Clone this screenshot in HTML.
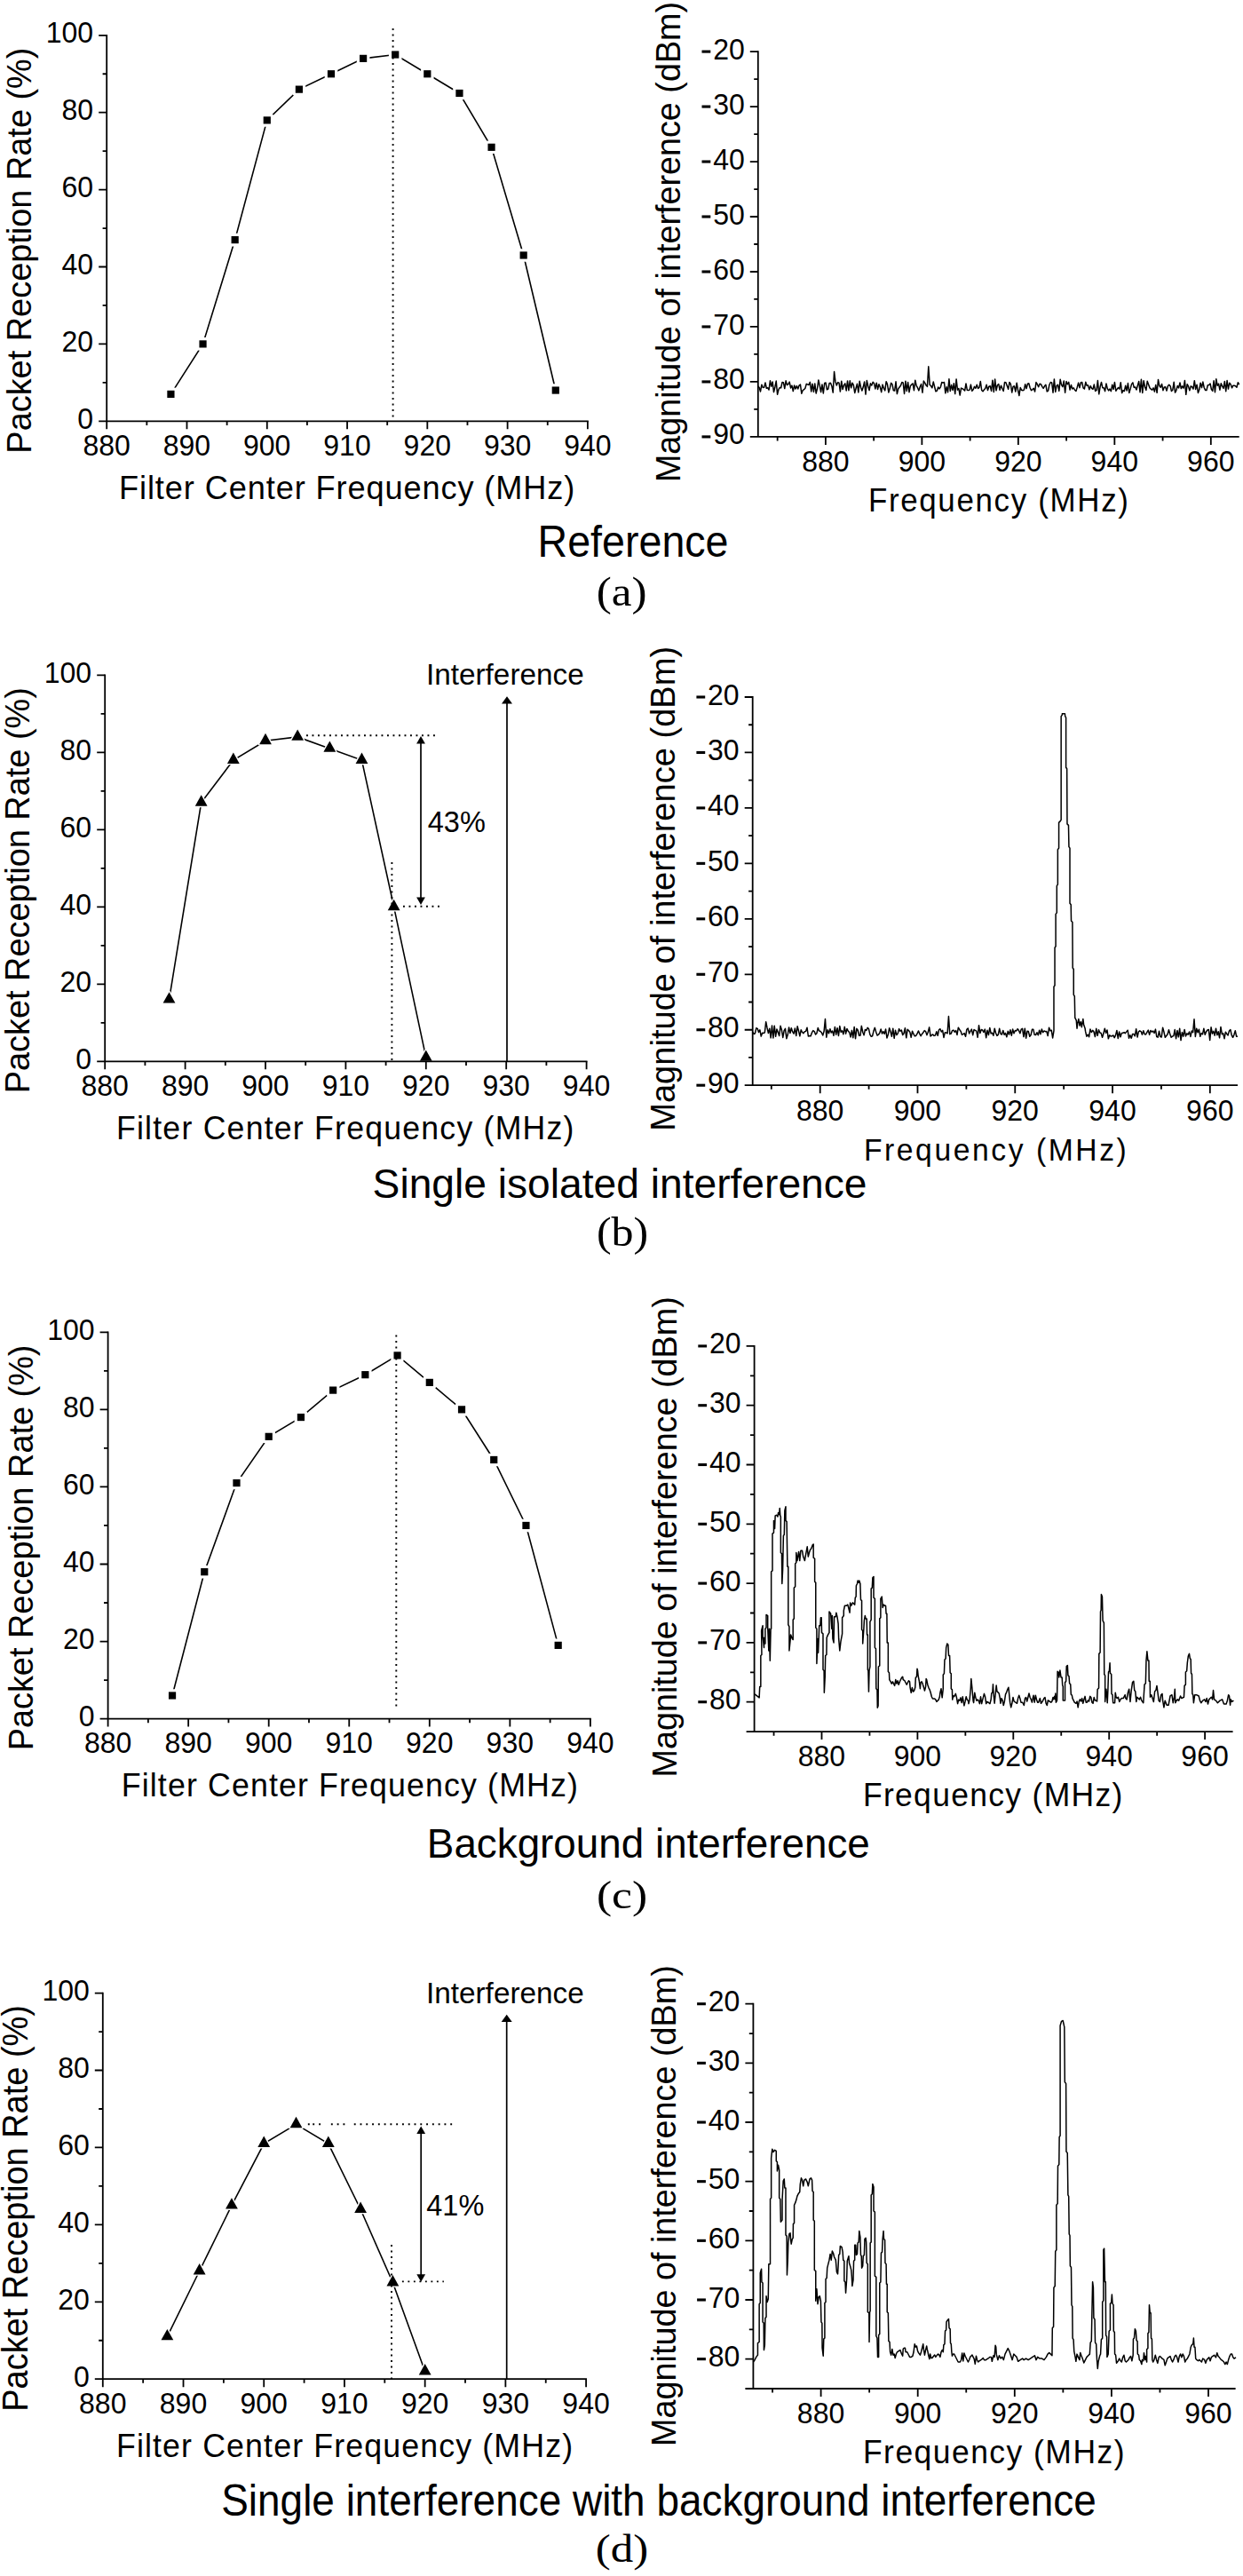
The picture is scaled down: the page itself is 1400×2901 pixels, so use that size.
<!DOCTYPE html>
<html><head><meta charset="utf-8"><style>
html,body{margin:0;padding:0;background:#fff;}
body{width:1400px;height:2901px;overflow:hidden;}
svg{display:block;}
text{font-family:"Liberation Sans",sans-serif;fill:#000;}
.tl{font-size:32px;}
.cap{font-family:"Liberation Serif",serif;}
.ax{stroke:#000;stroke-width:1.8;fill:none;}
.ln{stroke:#000;stroke-width:1.6;fill:none;}
.sg{stroke:#000;stroke-width:1.5;fill:none;stroke-linejoin:round;}
.dot{stroke:#000;stroke-width:1.9;stroke-dasharray:1.9 4.6;fill:none;}
.arr{stroke:#000;stroke-width:1.7;fill:none;}
</style></head><body>
<svg width="1400" height="2901" viewBox="0 0 1400 2901">
<path d="M111.2 474.3H662.8" class="ax"/>
<path d="M120.2 483.3V38.9" class="ax"/>
<path d="M115.6 430.85H120.2M111.2 387.4H120.2M115.6 343.95H120.2M111.2 300.5H120.2M115.6 257.05H120.2M111.2 213.6H120.2M115.6 170.15H120.2M111.2 126.7H120.2M115.6 83.25H120.2M111.2 39.8H120.2M165.34 474.3V478.9M210.48 474.3V483.3M255.62 474.3V478.9M300.77 474.3V483.3M345.91 474.3V478.9M391.05 474.3V483.3M436.19 474.3V478.9M481.33 474.3V483.3M526.48 474.3V478.9M571.62 474.3V483.3M616.76 474.3V478.9M661.9 474.3V483.3" class="ax"/>
<text x="87.32" y="482.87" class="tl" transform="translate(0 482.87) scale(1 1.03) translate(0 -482.87)">0</text>
<text x="69.56" y="395.97" class="tl" transform="translate(0 395.97) scale(1 1.03) translate(0 -395.97)">20</text>
<text x="69.56" y="309.07" class="tl" transform="translate(0 309.07) scale(1 1.03) translate(0 -309.07)">40</text>
<text x="69.56" y="222.17" class="tl" transform="translate(0 222.17) scale(1 1.03) translate(0 -222.17)">60</text>
<text x="69.56" y="135.27" class="tl" transform="translate(0 135.27) scale(1 1.03) translate(0 -135.27)">80</text>
<text x="51.8" y="48.37" class="tl" transform="translate(0 48.37) scale(1 1.03) translate(0 -48.37)">100</text>
<text x="93.48" y="513.17" class="tl" transform="translate(0 513.17) scale(1 1.03) translate(0 -513.17)">880</text>
<text x="183.76" y="513.17" class="tl" transform="translate(0 513.17) scale(1 1.03) translate(0 -513.17)">890</text>
<text x="274.05" y="513.17" class="tl" transform="translate(0 513.17) scale(1 1.03) translate(0 -513.17)">900</text>
<text x="364.33" y="513.17" class="tl" transform="translate(0 513.17) scale(1 1.03) translate(0 -513.17)">910</text>
<text x="454.61" y="513.17" class="tl" transform="translate(0 513.17) scale(1 1.03) translate(0 -513.17)">920</text>
<text x="544.9" y="513.17" class="tl" transform="translate(0 513.17) scale(1 1.03) translate(0 -513.17)">930</text>
<text x="635.18" y="513.17" class="tl" transform="translate(0 513.17) scale(1 1.03) translate(0 -513.17)">940</text>
<text transform="translate(134.01 561.9) scale(1 1.0377)" class="ti" font-size="36.17" letter-spacing="0.897">Filter Center Frequency (MHz)</text>
<text transform="translate(35.2 510.63) rotate(-90) scale(0.9478 0.9855)" class="ti" font-size="40">Packet Reception Rate (%)</text>
<path d="M442.6 32V474.3" class="dot"/>
<mask id="m0" maskUnits="userSpaceOnUse" x="0" y="0" width="1400" height="2901"><rect width="1400" height="2901" fill="#fff"/><g fill="#000" stroke="#000" stroke-width="6.4" stroke-linejoin="round"><rect x="188.33" y="439.78" width="8.2" height="8.2"/><rect x="224.44" y="383.3" width="8.2" height="8.2"/><rect x="260.55" y="265.99" width="8.2" height="8.2"/><rect x="296.67" y="131.29" width="8.2" height="8.2"/><rect x="332.78" y="96.53" width="8.2" height="8.2"/><rect x="368.89" y="79.15" width="8.2" height="8.2"/><rect x="405.01" y="61.77" width="8.2" height="8.2"/><rect x="441.12" y="57.43" width="8.2" height="8.2"/><rect x="477.23" y="79.15" width="8.2" height="8.2"/><rect x="513.35" y="100.88" width="8.2" height="8.2"/><rect x="549.46" y="161.71" width="8.2" height="8.2"/><rect x="585.57" y="283.37" width="8.2" height="8.2"/><rect x="621.69" y="435.44" width="8.2" height="8.2"/></g></mask>
<path d="M192.43 443.88 L228.54 387.4 L264.65 270.09 L300.77 135.39 L336.88 100.63 L372.99 83.25 L409.11 65.87 L445.22 61.53 L481.33 83.25 L517.45 104.98 L553.56 165.81 L589.67 287.47 L625.79 439.54" class="ln" mask="url(#m0)"/>
<rect x="188.33" y="439.78" width="8.2" height="8.2"/>
<rect x="224.44" y="383.3" width="8.2" height="8.2"/>
<rect x="260.55" y="265.99" width="8.2" height="8.2"/>
<rect x="296.67" y="131.29" width="8.2" height="8.2"/>
<rect x="332.78" y="96.53" width="8.2" height="8.2"/>
<rect x="368.89" y="79.15" width="8.2" height="8.2"/>
<rect x="405.01" y="61.77" width="8.2" height="8.2"/>
<rect x="441.12" y="57.43" width="8.2" height="8.2"/>
<rect x="477.23" y="79.15" width="8.2" height="8.2"/>
<rect x="513.35" y="100.88" width="8.2" height="8.2"/>
<rect x="549.46" y="161.71" width="8.2" height="8.2"/>
<rect x="585.57" y="283.37" width="8.2" height="8.2"/>
<rect x="621.69" y="435.44" width="8.2" height="8.2"/>
<path d="M109.2 1195.3H661.5" class="ax"/>
<path d="M118.2 1204.3V759.4" class="ax"/>
<path d="M113.6 1151.8H118.2M109.2 1108.3H118.2M113.6 1064.8H118.2M109.2 1021.3H118.2M113.6 977.8H118.2M109.2 934.3H118.2M113.6 890.8H118.2M109.2 847.3H118.2M113.6 803.8H118.2M109.2 760.3H118.2M163.4 1195.3V1199.9M208.6 1195.3V1204.3M253.8 1195.3V1199.9M299 1195.3V1204.3M344.2 1195.3V1199.9M389.4 1195.3V1204.3M434.6 1195.3V1199.9M479.8 1195.3V1204.3M525 1195.3V1199.9M570.2 1195.3V1204.3M615.4 1195.3V1199.9M660.6 1195.3V1204.3" class="ax"/>
<text x="85.32" y="1203.87" class="tl" transform="translate(0 1203.87) scale(1 1.03) translate(0 -1203.87)">0</text>
<text x="67.56" y="1116.87" class="tl" transform="translate(0 1116.87) scale(1 1.03) translate(0 -1116.87)">20</text>
<text x="67.56" y="1029.87" class="tl" transform="translate(0 1029.87) scale(1 1.03) translate(0 -1029.87)">40</text>
<text x="67.56" y="942.87" class="tl" transform="translate(0 942.87) scale(1 1.03) translate(0 -942.87)">60</text>
<text x="67.56" y="855.87" class="tl" transform="translate(0 855.87) scale(1 1.03) translate(0 -855.87)">80</text>
<text x="49.8" y="768.87" class="tl" transform="translate(0 768.87) scale(1 1.03) translate(0 -768.87)">100</text>
<text x="91.48" y="1234.17" class="tl" transform="translate(0 1234.17) scale(1 1.03) translate(0 -1234.17)">880</text>
<text x="181.88" y="1234.17" class="tl" transform="translate(0 1234.17) scale(1 1.03) translate(0 -1234.17)">890</text>
<text x="272.28" y="1234.17" class="tl" transform="translate(0 1234.17) scale(1 1.03) translate(0 -1234.17)">900</text>
<text x="362.68" y="1234.17" class="tl" transform="translate(0 1234.17) scale(1 1.03) translate(0 -1234.17)">910</text>
<text x="453.08" y="1234.17" class="tl" transform="translate(0 1234.17) scale(1 1.03) translate(0 -1234.17)">920</text>
<text x="543.48" y="1234.17" class="tl" transform="translate(0 1234.17) scale(1 1.03) translate(0 -1234.17)">930</text>
<text x="633.88" y="1234.17" class="tl" transform="translate(0 1234.17) scale(1 1.03) translate(0 -1234.17)">940</text>
<text transform="translate(130.95 1283.4) scale(1 1.0377)" class="ti" font-size="35.61" letter-spacing="1.246">Filter Center Frequency (MHz)</text>
<text transform="translate(33 1231.33) rotate(-90) scale(0.9482 0.9783)" class="ti" font-size="40">Packet Reception Rate (%)</text>
<path d="M441.4 971.1V1195.3" class="dot"/>
<path d="M345 828.2H491.7" class="dot"/><path d="M454 1020.7H495.3" class="dot"/><path d="M474 833V1014.9" class="arr"/><path d="M474 829L478.9 837.4L469.1 837.4Z"/><path d="M474 1018.9L478.9 1010.5L469.1 1010.5Z"/><path d="M571 788.2V1195.3" class="arr"/><path d="M571 784.2L577 792.4L565 792.4Z"/><text transform="translate(479.9 770.6) scale(0.8337 0.8297)" class="an" font-size="40">Interference</text><text transform="translate(481.79 937.3) scale(0.8131 0.8429)" class="an" font-size="40">43%</text>
<mask id="m1" maskUnits="userSpaceOnUse" x="0" y="0" width="1400" height="2901"><rect width="1400" height="2901" fill="#fff"/><g fill="#000" stroke="#000" stroke-width="2.8" stroke-linejoin="round"><path d="M190.52 1117.2L197.42 1129.6L183.62 1129.6Z"/><path d="M226.68 895.35L233.58 907.75L219.78 907.75Z"/><path d="M262.84 847.5L269.74 859.9L255.94 859.9Z"/><path d="M299 825.75L305.9 838.15L292.1 838.15Z"/><path d="M335.16 821.4L342.06 833.8L328.26 833.8Z"/><path d="M371.32 834.45L378.22 846.85L364.42 846.85Z"/><path d="M407.48 847.5L414.38 859.9L400.58 859.9Z"/><path d="M443.64 1012.8L450.54 1025.2L436.74 1025.2Z"/><path d="M479.8 1182.45L486.7 1194.85L472.9 1194.85Z"/></g></mask>
<path d="M190.52 1125.7 L226.68 903.85 L262.84 856 L299 834.25 L335.16 829.9 L371.32 842.95 L407.48 856 L443.64 1021.3 L479.8 1190.95" class="ln" mask="url(#m1)"/>
<path d="M190.52 1117.2L197.42 1129.6L183.62 1129.6Z"/>
<path d="M226.68 895.35L233.58 907.75L219.78 907.75Z"/>
<path d="M262.84 847.5L269.74 859.9L255.94 859.9Z"/>
<path d="M299 825.75L305.9 838.15L292.1 838.15Z"/>
<path d="M335.16 821.4L342.06 833.8L328.26 833.8Z"/>
<path d="M371.32 834.45L378.22 846.85L364.42 846.85Z"/>
<path d="M407.48 847.5L414.38 859.9L400.58 859.9Z"/>
<path d="M443.64 1012.8L450.54 1025.2L436.74 1025.2Z"/>
<path d="M479.8 1182.45L486.7 1194.85L472.9 1194.85Z"/>
<path d="M112.6 1935.6H665.8" class="ax"/>
<path d="M121.6 1944.6V1499.4" class="ax"/>
<path d="M117 1892.07H121.6M112.6 1848.54H121.6M117 1805.01H121.6M112.6 1761.48H121.6M117 1717.95H121.6M112.6 1674.42H121.6M117 1630.89H121.6M112.6 1587.36H121.6M117 1543.83H121.6M112.6 1500.3H121.6M166.88 1935.6V1940.2M212.15 1935.6V1944.6M257.42 1935.6V1940.2M302.7 1935.6V1944.6M347.98 1935.6V1940.2M393.25 1935.6V1944.6M438.52 1935.6V1940.2M483.8 1935.6V1944.6M529.07 1935.6V1940.2M574.35 1935.6V1944.6M619.62 1935.6V1940.2M664.9 1935.6V1944.6" class="ax"/>
<text x="88.72" y="1944.17" class="tl" transform="translate(0 1944.17) scale(1 1.03) translate(0 -1944.17)">0</text>
<text x="70.96" y="1857.11" class="tl" transform="translate(0 1857.11) scale(1 1.03) translate(0 -1857.11)">20</text>
<text x="70.96" y="1770.05" class="tl" transform="translate(0 1770.05) scale(1 1.03) translate(0 -1770.05)">40</text>
<text x="70.96" y="1682.99" class="tl" transform="translate(0 1682.99) scale(1 1.03) translate(0 -1682.99)">60</text>
<text x="70.96" y="1595.93" class="tl" transform="translate(0 1595.93) scale(1 1.03) translate(0 -1595.93)">80</text>
<text x="53.2" y="1508.87" class="tl" transform="translate(0 1508.87) scale(1 1.03) translate(0 -1508.87)">100</text>
<text x="94.88" y="1974.47" class="tl" transform="translate(0 1974.47) scale(1 1.03) translate(0 -1974.47)">880</text>
<text x="185.43" y="1974.47" class="tl" transform="translate(0 1974.47) scale(1 1.03) translate(0 -1974.47)">890</text>
<text x="275.98" y="1974.47" class="tl" transform="translate(0 1974.47) scale(1 1.03) translate(0 -1974.47)">900</text>
<text x="366.53" y="1974.47" class="tl" transform="translate(0 1974.47) scale(1 1.03) translate(0 -1974.47)">910</text>
<text x="457.08" y="1974.47" class="tl" transform="translate(0 1974.47) scale(1 1.03) translate(0 -1974.47)">920</text>
<text x="547.63" y="1974.47" class="tl" transform="translate(0 1974.47) scale(1 1.03) translate(0 -1974.47)">930</text>
<text x="638.18" y="1974.47" class="tl" transform="translate(0 1974.47) scale(1 1.03) translate(0 -1974.47)">940</text>
<text transform="translate(136.74 2022.5) scale(1 1.0377)" class="ti" font-size="35.75" letter-spacing="1.126">Filter Center Frequency (MHz)</text>
<text transform="translate(37.2 1971.33) rotate(-90) scale(0.9471 0.9928)" class="ti" font-size="40">Packet Reception Rate (%)</text>
<path d="M446.3 1503.5V1925" class="dot"/>
<mask id="m2" maskUnits="userSpaceOnUse" x="0" y="0" width="1400" height="2901"><rect width="1400" height="2901" fill="#fff"/><g fill="#000" stroke="#000" stroke-width="6.4" stroke-linejoin="round"><rect x="189.94" y="1905.38" width="8.2" height="8.2"/><rect x="226.16" y="1766.09" width="8.2" height="8.2"/><rect x="262.38" y="1665.97" width="8.2" height="8.2"/><rect x="298.6" y="1613.73" width="8.2" height="8.2"/><rect x="334.82" y="1591.97" width="8.2" height="8.2"/><rect x="371.04" y="1561.5" width="8.2" height="8.2"/><rect x="407.26" y="1544.08" width="8.2" height="8.2"/><rect x="443.48" y="1522.32" width="8.2" height="8.2"/><rect x="479.7" y="1552.79" width="8.2" height="8.2"/><rect x="515.92" y="1583.26" width="8.2" height="8.2"/><rect x="552.14" y="1639.85" width="8.2" height="8.2"/><rect x="588.36" y="1713.85" width="8.2" height="8.2"/><rect x="624.58" y="1848.79" width="8.2" height="8.2"/></g></mask>
<path d="M194.04 1909.48 L230.26 1770.19 L266.48 1670.07 L302.7 1617.83 L338.92 1596.07 L375.14 1565.6 L411.36 1548.18 L447.58 1526.42 L483.8 1556.89 L520.02 1587.36 L556.24 1643.95 L592.46 1717.95 L628.68 1852.89" class="ln" mask="url(#m2)"/>
<rect x="189.94" y="1905.38" width="8.2" height="8.2"/>
<rect x="226.16" y="1766.09" width="8.2" height="8.2"/>
<rect x="262.38" y="1665.97" width="8.2" height="8.2"/>
<rect x="298.6" y="1613.73" width="8.2" height="8.2"/>
<rect x="334.82" y="1591.97" width="8.2" height="8.2"/>
<rect x="371.04" y="1561.5" width="8.2" height="8.2"/>
<rect x="407.26" y="1544.08" width="8.2" height="8.2"/>
<rect x="443.48" y="1522.32" width="8.2" height="8.2"/>
<rect x="479.7" y="1552.79" width="8.2" height="8.2"/>
<rect x="515.92" y="1583.26" width="8.2" height="8.2"/>
<rect x="552.14" y="1639.85" width="8.2" height="8.2"/>
<rect x="588.36" y="1713.85" width="8.2" height="8.2"/>
<rect x="624.58" y="1848.79" width="8.2" height="8.2"/>
<path d="M106.8 2679.2H661" class="ax"/>
<path d="M115.8 2688.2V2243.7" class="ax"/>
<path d="M111.2 2635.74H115.8M106.8 2592.28H115.8M111.2 2548.82H115.8M106.8 2505.36H115.8M111.2 2461.9H115.8M106.8 2418.44H115.8M111.2 2374.98H115.8M106.8 2331.52H115.8M111.2 2288.06H115.8M106.8 2244.6H115.8M161.16 2679.2V2683.8M206.52 2679.2V2688.2M251.88 2679.2V2683.8M297.23 2679.2V2688.2M342.59 2679.2V2683.8M387.95 2679.2V2688.2M433.31 2679.2V2683.8M478.67 2679.2V2688.2M524.02 2679.2V2683.8M569.38 2679.2V2688.2M614.74 2679.2V2683.8M660.1 2679.2V2688.2" class="ax"/>
<text x="82.92" y="2687.77" class="tl" transform="translate(0 2687.77) scale(1 1.03) translate(0 -2687.77)">0</text>
<text x="65.16" y="2600.85" class="tl" transform="translate(0 2600.85) scale(1 1.03) translate(0 -2600.85)">20</text>
<text x="65.16" y="2513.93" class="tl" transform="translate(0 2513.93) scale(1 1.03) translate(0 -2513.93)">40</text>
<text x="65.16" y="2427.01" class="tl" transform="translate(0 2427.01) scale(1 1.03) translate(0 -2427.01)">60</text>
<text x="65.16" y="2340.09" class="tl" transform="translate(0 2340.09) scale(1 1.03) translate(0 -2340.09)">80</text>
<text x="47.4" y="2253.17" class="tl" transform="translate(0 2253.17) scale(1 1.03) translate(0 -2253.17)">100</text>
<text x="89.08" y="2718.07" class="tl" transform="translate(0 2718.07) scale(1 1.03) translate(0 -2718.07)">880</text>
<text x="179.8" y="2718.07" class="tl" transform="translate(0 2718.07) scale(1 1.03) translate(0 -2718.07)">890</text>
<text x="270.51" y="2718.07" class="tl" transform="translate(0 2718.07) scale(1 1.03) translate(0 -2718.07)">900</text>
<text x="361.23" y="2718.07" class="tl" transform="translate(0 2718.07) scale(1 1.03) translate(0 -2718.07)">910</text>
<text x="451.95" y="2718.07" class="tl" transform="translate(0 2718.07) scale(1 1.03) translate(0 -2718.07)">920</text>
<text x="542.66" y="2718.07" class="tl" transform="translate(0 2718.07) scale(1 1.03) translate(0 -2718.07)">930</text>
<text x="633.38" y="2718.07" class="tl" transform="translate(0 2718.07) scale(1 1.03) translate(0 -2718.07)">940</text>
<text transform="translate(130.94 2767.3) scale(1 1.0377)" class="ti" font-size="35.75" letter-spacing="1.126">Filter Center Frequency (MHz)</text>
<text transform="translate(31.4 2715.74) rotate(-90) scale(0.9488 0.9964)" class="ti" font-size="40">Packet Reception Rate (%)</text>
<path d="M441 2528V2679.2" class="dot"/>
<path d="M346.85 2392.3h1.9M352.25 2392.3h1.9M359.15 2392.3h1.9M372.85 2392.3h1.9M379.65 2392.3h1.9M386.45 2392.3h1.9M398.75 2392.3h1.9M405.53 2392.3h1.9M412.31 2392.3h1.9M419.09 2392.3h1.9M425.87 2392.3h1.9M432.65 2392.3h1.9M439.43 2392.3h1.9M446.21 2392.3h1.9M452.99 2392.3h1.9M459.77 2392.3h1.9M466.55 2392.3h1.9M473.33 2392.3h1.9M480.11 2392.3h1.9M486.89 2392.3h1.9M493.67 2392.3h1.9M500.45 2392.3h1.9M507.23 2392.3h1.9" stroke="#000" stroke-width="1.9" fill="none"/><path d="M452.9 2569.4H499.9" class="dot"/><path d="M474.2 2398.5V2565.7" class="arr"/><path d="M474.2 2394.5L479.1 2402.9L469.3 2402.9Z"/><path d="M474.2 2569.7L479.1 2561.3L469.3 2561.3Z"/><path d="M570.7 2272.7V2679.2" class="arr"/><path d="M570.7 2268.7L576.7 2276.9L564.7 2276.9Z"/><text transform="translate(479.9 2256.3) scale(0.8337 0.8188)" class="an" font-size="40">Interference</text><text transform="translate(480.29 2495) scale(0.8119 0.8489)" class="an" font-size="40">41%</text>
<mask id="m3" maskUnits="userSpaceOnUse" x="0" y="0" width="1400" height="2901"><rect width="1400" height="2901" fill="#fff"/><g fill="#000" stroke="#000" stroke-width="2.8" stroke-linejoin="round"><path d="M188.37 2622.89L195.27 2635.29L181.47 2635.29Z"/><path d="M224.66 2549.01L231.56 2561.41L217.76 2561.41Z"/><path d="M260.95 2475.13L267.85 2487.53L254.05 2487.53Z"/><path d="M297.23 2405.59L304.13 2417.99L290.33 2417.99Z"/><path d="M333.52 2383.86L340.42 2396.26L326.62 2396.26Z"/><path d="M369.81 2405.59L376.71 2417.99L362.91 2417.99Z"/><path d="M406.09 2479.48L412.99 2491.88L399.19 2491.88Z"/><path d="M442.38 2562.05L449.28 2574.45L435.48 2574.45Z"/><path d="M478.67 2662.01L485.57 2674.41L471.77 2674.41Z"/></g></mask>
<path d="M188.37 2631.39 L224.66 2557.51 L260.95 2483.63 L297.23 2414.09 L333.52 2392.36 L369.81 2414.09 L406.09 2487.98 L442.38 2570.55 L478.67 2670.51" class="ln" mask="url(#m3)"/>
<path d="M188.37 2622.89L195.27 2635.29L181.47 2635.29Z"/>
<path d="M224.66 2549.01L231.56 2561.41L217.76 2561.41Z"/>
<path d="M260.95 2475.13L267.85 2487.53L254.05 2487.53Z"/>
<path d="M297.23 2405.59L304.13 2417.99L290.33 2417.99Z"/>
<path d="M333.52 2383.86L340.42 2396.26L326.62 2396.26Z"/>
<path d="M369.81 2405.59L376.71 2417.99L362.91 2417.99Z"/>
<path d="M406.09 2479.48L412.99 2491.88L399.19 2491.88Z"/>
<path d="M442.38 2562.05L449.28 2574.45L435.48 2574.45Z"/>
<path d="M478.67 2662.01L485.57 2674.41L471.77 2674.41Z"/>
<path d="M844.8 491.9H1395.7" class="ax"/>
<path d="M853.8 491.9V57.2" class="ax"/>
<path d="M844.8 58.1H853.8M849.2 89.09H853.8M844.8 120.07H853.8M849.2 151.06H853.8M844.8 182.04H853.8M849.2 213.03H853.8M844.8 244.01H853.8M849.2 275H853.8M844.8 305.99H853.8M849.2 336.97H853.8M844.8 367.96H853.8M849.2 398.94H853.8M844.8 429.93H853.8M849.2 460.91H853.8M875.66 491.9V496.5M929.9 491.9V500.9M984.14 491.9V496.5M1038.38 491.9V500.9M1092.62 491.9V496.5M1146.86 491.9V500.9M1201.1 491.9V496.5M1255.34 491.9V500.9M1309.58 491.9V496.5M1363.82 491.9V500.9" class="ax"/>
<text x="803.16" y="66.67" class="tl" transform="translate(0 66.67) scale(1 1.03) translate(0 -66.67)">20</text>
<rect x="790.5" y="56.55" width="9.8" height="3.1"/>
<text x="803.16" y="128.64" class="tl" transform="translate(0 128.64) scale(1 1.03) translate(0 -128.64)">30</text>
<rect x="790.5" y="118.52" width="9.8" height="3.1"/>
<text x="803.16" y="190.61" class="tl" transform="translate(0 190.61) scale(1 1.03) translate(0 -190.61)">40</text>
<rect x="790.5" y="180.49" width="9.8" height="3.1"/>
<text x="803.16" y="252.59" class="tl" transform="translate(0 252.59) scale(1 1.03) translate(0 -252.59)">50</text>
<rect x="790.5" y="242.46" width="9.8" height="3.1"/>
<text x="803.16" y="314.56" class="tl" transform="translate(0 314.56) scale(1 1.03) translate(0 -314.56)">60</text>
<rect x="790.5" y="304.44" width="9.8" height="3.1"/>
<text x="803.16" y="376.53" class="tl" transform="translate(0 376.53) scale(1 1.03) translate(0 -376.53)">70</text>
<rect x="790.5" y="366.41" width="9.8" height="3.1"/>
<text x="803.16" y="438.5" class="tl" transform="translate(0 438.5) scale(1 1.03) translate(0 -438.5)">80</text>
<rect x="790.5" y="428.38" width="9.8" height="3.1"/>
<text x="803.16" y="500.47" class="tl" transform="translate(0 500.47) scale(1 1.03) translate(0 -500.47)">90</text>
<rect x="790.5" y="490.35" width="9.8" height="3.1"/>
<text x="903.18" y="531.27" class="tl" transform="translate(0 531.27) scale(1 1.03) translate(0 -531.27)">880</text>
<text x="1011.66" y="531.27" class="tl" transform="translate(0 531.27) scale(1 1.03) translate(0 -531.27)">900</text>
<text x="1120.14" y="531.27" class="tl" transform="translate(0 531.27) scale(1 1.03) translate(0 -531.27)">920</text>
<text x="1228.62" y="531.27" class="tl" transform="translate(0 531.27) scale(1 1.03) translate(0 -531.27)">940</text>
<text x="1337.1" y="531.27" class="tl" transform="translate(0 531.27) scale(1 1.03) translate(0 -531.27)">960</text>
<text transform="translate(977.91 576.3) scale(1 1.0377)" class="ti" font-size="34.92" letter-spacing="1.667">Frequency (MHz)</text>
<text transform="translate(766 543.12) rotate(-90) scale(0.9437 0.9891)" class="ti" font-size="40">Magnitude of interference (dBm)</text>
<path d="M853.8 434.85 L855.16 436.54 L856.52 440.91 L857.88 433.14 L859.25 436.43 L860.61 436.36 L861.97 430.91 L863.33 437.27 L864.69 436.65 L866.05 439.08 L867.42 428.73 L868.78 435.2 L870.14 430.04 L871.5 441.62 L872.86 435.99 L874.22 429.1 L875.58 444.3 L876.95 438.74 L878.31 436.46 L879.67 436.74 L881.03 430.41 L882.39 430.69 L883.75 437.57 L885.12 428.79 L886.48 433.64 L887.84 432.64 L889.2 430.11 L890.56 436.9 L891.92 434.2 L893.29 440.61 L894.65 433.97 L896.01 437.94 L897.37 434.64 L898.73 438.01 L900.09 434.04 L901.45 432.99 L902.82 443.15 L904.18 439.57 L905.54 438.7 L906.9 437.2 L908.26 432.39 L909.62 432.91 L910.99 433.54 L912.35 430.34 L913.71 440.93 L915.07 432.25 L916.43 441.35 L917.79 431.91 L919.15 442.99 L920.52 437.6 L921.88 427.97 L923.24 434.19 L924.6 441.54 L925.96 432.98 L927.32 442.92 L928.69 431.51 L930.05 431.09 L931.41 438.8 L932.77 438.13 L934.13 431.45 L935.49 431.3 L936.86 434.69 L938.22 442.09 L939.58 418.6 L940.94 429.88 L942.3 434.02 L943.66 430.59 L945.02 431.23 L946.39 441.03 L947.75 429.18 L949.11 438.52 L950.47 433.73 L951.83 431.91 L953.19 439.91 L954.56 428.94 L955.92 439.75 L957.28 428.8 L958.64 436.77 L960 431.15 L961.36 433.89 L962.72 442.47 L964.09 437.19 L965.45 432.25 L966.81 441.87 L968.17 429.34 L969.53 436.22 L970.89 440.07 L972.26 435.83 L973.62 429.95 L974.98 444.1 L976.34 428.59 L977.7 434.63 L979.06 439.51 L980.42 431.77 L981.79 434.04 L983.15 430.21 L984.51 431.78 L985.87 437.93 L987.23 431.16 L988.59 438.4 L989.96 432.74 L991.32 435.83 L992.68 441.63 L994.04 433.13 L995.4 437.34 L996.76 439.84 L998.13 429.67 L999.49 432.84 L1000.85 441.99 L1002.21 437.55 L1003.57 431.38 L1004.93 432.73 L1006.29 439.73 L1007.66 440.01 L1009.02 429.8 L1010.38 443.62 L1011.74 437.86 L1013.1 436.08 L1014.46 434.23 L1015.83 430.56 L1017.19 430.96 L1018.55 443.38 L1019.91 429.18 L1021.27 440.49 L1022.63 430.45 L1023.99 441.67 L1025.36 434.65 L1026.72 432.99 L1028.08 431.97 L1029.44 439.73 L1030.8 428.15 L1032.16 434.38 L1033.53 436.7 L1034.89 439.87 L1036.25 435.52 L1037.61 432.5 L1038.97 442.23 L1040.33 429.12 L1041.69 431.16 L1043.06 433.88 L1044.42 435.33 L1045.78 412.7 L1047.14 433.17 L1048.5 434.53 L1049.86 436.82 L1051.23 430.03 L1052.59 435.54 L1053.95 440.8 L1055.31 440.18 L1056.67 436 L1058.03 437.93 L1059.4 435.8 L1060.76 430.5 L1062.12 430.93 L1063.48 430.54 L1064.84 442.81 L1066.2 435.67 L1067.56 441.73 L1068.93 426.81 L1070.29 440.39 L1071.65 433.55 L1073.01 439.32 L1074.37 431.7 L1075.73 443.62 L1077.1 426.88 L1078.46 439.14 L1079.82 437.45 L1081.18 445 L1082.54 437.06 L1083.9 437.72 L1085.26 438.71 L1086.63 440.02 L1087.99 431.9 L1089.35 439.28 L1090.71 439.63 L1092.07 439.1 L1093.43 433.11 L1094.8 440.29 L1096.16 438.77 L1097.52 435.35 L1098.88 437.25 L1100.24 433.29 L1101.6 437.4 L1102.97 436.32 L1104.33 429.51 L1105.69 439.49 L1107.05 440.81 L1108.41 438.81 L1109.77 437.45 L1111.13 433.3 L1112.5 439.47 L1113.86 435.21 L1115.22 434.79 L1116.58 440.35 L1117.94 428.14 L1119.3 441.48 L1120.67 427.01 L1122.03 439.85 L1123.39 433.72 L1124.75 432.45 L1126.11 439.26 L1127.47 434.15 L1128.83 437.53 L1130.2 440.51 L1131.56 430.43 L1132.92 430.63 L1134.28 434.5 L1135.64 438.27 L1137 430.48 L1138.37 432.76 L1139.73 441.98 L1141.09 435.41 L1142.45 434.74 L1143.81 441.09 L1145.17 431.19 L1146.53 439.27 L1147.9 445.5 L1149.26 436.46 L1150.62 439.33 L1151.98 439.79 L1153.34 439.17 L1154.7 432.64 L1156.07 437.63 L1157.43 432.26 L1158.79 431.69 L1160.15 436.79 L1161.51 439.63 L1162.87 438.8 L1164.24 437.22 L1165.6 441.02 L1166.96 430.53 L1168.32 432.74 L1169.68 435.8 L1171.04 432.34 L1172.4 432.72 L1173.77 435.3 L1175.13 437.28 L1176.49 434.79 L1177.85 433.24 L1179.21 440.9 L1180.57 440.16 L1181.94 433.22 L1183.3 430.51 L1184.66 430.87 L1186.02 442.19 L1187.38 426.92 L1188.74 441.34 L1190.1 434.42 L1191.47 433.28 L1192.83 440.24 L1194.19 427.3 L1195.55 433.42 L1196.91 435.61 L1198.27 429 L1199.64 442.26 L1201 429.56 L1202.36 432.69 L1203.72 430.32 L1205.08 439.07 L1206.44 433.52 L1207.81 437.96 L1209.17 436.75 L1210.53 439.24 L1211.89 440.42 L1213.25 436.29 L1214.61 431.14 L1215.97 436.69 L1217.34 430.71 L1218.7 430.52 L1220.06 436.86 L1221.42 437.94 L1222.78 430.28 L1224.14 434.23 L1225.51 433.85 L1226.87 438.76 L1228.23 434.64 L1229.59 437.36 L1230.95 438.33 L1232.31 433.06 L1233.67 440.32 L1235.04 439.34 L1236.4 428.54 L1237.76 443.82 L1239.12 435.61 L1240.48 430.43 L1241.84 436.64 L1243.21 436.81 L1244.57 440.62 L1245.93 432.03 L1247.29 437.65 L1248.65 439.91 L1250.01 437.99 L1251.37 440.67 L1252.74 433.2 L1254.1 438.36 L1255.46 430.48 L1256.82 440.27 L1258.18 438.16 L1259.54 436.5 L1260.91 438.11 L1262.27 430.69 L1263.63 442.62 L1264.99 439.54 L1266.35 440.58 L1267.71 434.23 L1269.08 439.9 L1270.44 431.52 L1271.8 442.47 L1273.16 437.9 L1274.52 432.6 L1275.88 430.84 L1277.24 436.33 L1278.61 435.89 L1279.97 439.01 L1281.33 434.1 L1282.69 429.58 L1284.05 441.78 L1285.41 427.37 L1286.78 442.42 L1288.14 428.63 L1289.5 435.66 L1290.86 439.36 L1292.22 429.26 L1293.58 432.91 L1294.94 436.63 L1296.31 438.14 L1297.67 439.2 L1299.03 436.78 L1300.39 441.11 L1301.75 433.43 L1303.11 442.33 L1304.48 427.48 L1305.84 434.52 L1307.2 436.21 L1308.56 432.4 L1309.92 439.7 L1311.28 435.92 L1312.64 435.66 L1314.01 440.12 L1315.37 434.7 L1316.73 433.22 L1318.09 434.68 L1319.45 440.48 L1320.81 439.2 L1322.18 430.24 L1323.54 442.11 L1324.9 439.56 L1326.26 434.41 L1327.62 436.87 L1328.98 430.95 L1330.35 437.58 L1331.71 434.82 L1333.07 437.17 L1334.43 428.49 L1335.79 444.34 L1337.15 432.63 L1338.51 435.15 L1339.88 439.72 L1341.24 434.88 L1342.6 435.6 L1343.96 438.06 L1345.32 428.7 L1346.68 438.41 L1348.05 433.31 L1349.41 442.48 L1350.77 438.82 L1352.13 431.2 L1353.49 436.64 L1354.85 430.03 L1356.21 436.51 L1357.58 439.44 L1358.94 439.57 L1360.3 433.76 L1361.66 433.62 L1363.02 431.96 L1364.38 438.34 L1365.75 440.29 L1367.11 428.78 L1368.47 441.65 L1369.83 426.86 L1371.19 434.36 L1372.55 432.19 L1373.92 439.2 L1375.28 431.78 L1376.64 434.83 L1378 437.36 L1379.36 429.47 L1380.72 440.75 L1382.08 428.53 L1383.45 438.08 L1384.81 431.2 L1386.17 432.89 L1387.53 436.83 L1388.89 434.18 L1390.25 434.27 L1391.62 434.75 L1392.98 436.16 L1394.34 430.64 L1395.7 433.18" class="sg"/>
<path d="M838.7 1222.2H1394" class="ax"/>
<path d="M847.7 1222.2V784.1" class="ax"/>
<path d="M838.7 785H847.7M843.1 816.23H847.7M838.7 847.46H847.7M843.1 878.69H847.7M838.7 909.91H847.7M843.1 941.14H847.7M838.7 972.37H847.7M843.1 1003.6H847.7M838.7 1034.83H847.7M843.1 1066.06H847.7M838.7 1097.29H847.7M843.1 1128.51H847.7M838.7 1159.74H847.7M843.1 1190.97H847.7M868.81 1222.2V1226.8M923.7 1222.2V1231.2M978.59 1222.2V1226.8M1033.48 1222.2V1231.2M1088.37 1222.2V1226.8M1143.26 1222.2V1231.2M1198.15 1222.2V1226.8M1253.04 1222.2V1231.2M1307.93 1222.2V1226.8M1362.82 1222.2V1231.2" class="ax"/>
<text x="797.06" y="793.57" class="tl" transform="translate(0 793.57) scale(1 1.03) translate(0 -793.57)">20</text>
<rect x="784.4" y="783.45" width="9.8" height="3.1"/>
<text x="797.06" y="856.03" class="tl" transform="translate(0 856.03) scale(1 1.03) translate(0 -856.03)">30</text>
<rect x="784.4" y="845.91" width="9.8" height="3.1"/>
<text x="797.06" y="918.49" class="tl" transform="translate(0 918.49) scale(1 1.03) translate(0 -918.49)">40</text>
<rect x="784.4" y="908.36" width="9.8" height="3.1"/>
<text x="797.06" y="980.94" class="tl" transform="translate(0 980.94) scale(1 1.03) translate(0 -980.94)">50</text>
<rect x="784.4" y="970.82" width="9.8" height="3.1"/>
<text x="797.06" y="1043.4" class="tl" transform="translate(0 1043.4) scale(1 1.03) translate(0 -1043.4)">60</text>
<rect x="784.4" y="1033.28" width="9.8" height="3.1"/>
<text x="797.06" y="1105.86" class="tl" transform="translate(0 1105.86) scale(1 1.03) translate(0 -1105.86)">70</text>
<rect x="784.4" y="1095.74" width="9.8" height="3.1"/>
<text x="797.06" y="1168.31" class="tl" transform="translate(0 1168.31) scale(1 1.03) translate(0 -1168.31)">80</text>
<rect x="784.4" y="1158.19" width="9.8" height="3.1"/>
<text x="797.06" y="1230.77" class="tl" transform="translate(0 1230.77) scale(1 1.03) translate(0 -1230.77)">90</text>
<rect x="784.4" y="1220.65" width="9.8" height="3.1"/>
<text x="896.98" y="1261.57" class="tl" transform="translate(0 1261.57) scale(1 1.03) translate(0 -1261.57)">880</text>
<text x="1006.76" y="1261.57" class="tl" transform="translate(0 1261.57) scale(1 1.03) translate(0 -1261.57)">900</text>
<text x="1116.54" y="1261.57" class="tl" transform="translate(0 1261.57) scale(1 1.03) translate(0 -1261.57)">920</text>
<text x="1226.32" y="1261.57" class="tl" transform="translate(0 1261.57) scale(1 1.03) translate(0 -1261.57)">940</text>
<text x="1336.1" y="1261.57" class="tl" transform="translate(0 1261.57) scale(1 1.03) translate(0 -1261.57)">960</text>
<text transform="translate(972.91 1306.5) scale(1 1.0377)" class="ti" font-size="33.66" letter-spacing="2.569">Frequency (MHz)</text>
<text transform="translate(759.8 1273.75) rotate(-90) scale(0.9518 0.9928)" class="ti" font-size="40">Magnitude of interference (dBm)</text>
<path d="M847.7 1162.2 L849.06 1164.48 L850.43 1163.79 L851.79 1157.8 L853.15 1158.33 L854.51 1162.47 L855.88 1159.82 L857.24 1167.13 L858.6 1163.15 L859.96 1163.48 L861.33 1162.85 L862.69 1150.7 L864.05 1157.65 L865.41 1163.48 L866.78 1158.14 L868.14 1168.86 L869.5 1155.02 L870.87 1168.91 L872.23 1155.19 L873.59 1167.28 L874.95 1158.89 L876.32 1162.63 L877.68 1166.53 L879.04 1155.36 L880.4 1159.77 L881.77 1168.39 L883.13 1160.54 L884.49 1158.32 L885.85 1169.76 L887.22 1165.27 L888.58 1156.92 L889.94 1163.54 L891.3 1157.79 L892.67 1161.92 L894.03 1164.15 L895.39 1157.92 L896.76 1166.45 L898.12 1155.78 L899.48 1160.94 L900.84 1166.8 L902.21 1159.81 L903.57 1162.48 L904.93 1163.65 L906.29 1161.82 L907.66 1161.36 L909.02 1157.31 L910.38 1167.01 L911.74 1166.48 L913.11 1166.77 L914.47 1162.95 L915.83 1160.63 L917.2 1161.52 L918.56 1165.1 L919.92 1163.66 L921.28 1157.5 L922.65 1161.1 L924.01 1161.36 L925.37 1163.03 L926.73 1166 L928.1 1161.27 L929.46 1147.6 L930.82 1168.15 L932.18 1159.69 L933.55 1163.71 L934.91 1158.77 L936.27 1162.94 L937.63 1161.02 L939 1166.26 L940.36 1156.46 L941.72 1165.21 L943.09 1157.72 L944.45 1166.5 L945.81 1155.59 L947.17 1162.26 L948.54 1160.73 L949.9 1164.75 L951.26 1156.38 L952.62 1164.16 L953.99 1158.45 L955.35 1161.32 L956.71 1162.63 L958.07 1167.91 L959.44 1160.38 L960.8 1168.67 L962.16 1156.39 L963.53 1169.69 L964.89 1158.37 L966.25 1160.25 L967.61 1166.25 L968.98 1166.09 L970.34 1155.37 L971.7 1162.24 L973.06 1165.81 L974.43 1159.46 L975.79 1160.49 L977.15 1157.36 L978.51 1158.83 L979.88 1165.2 L981.24 1167.31 L982.6 1166.75 L983.97 1161.06 L985.33 1157.34 L986.69 1162.19 L988.05 1166.03 L989.42 1165.22 L990.78 1163.21 L992.14 1159.03 L993.5 1164.04 L994.87 1161.69 L996.23 1164.29 L997.59 1159.05 L998.95 1169.02 L1000.32 1164.91 L1001.68 1157.64 L1003.04 1161.72 L1004.4 1167.21 L1005.77 1158.21 L1007.13 1169.28 L1008.49 1160.31 L1009.86 1165.6 L1011.22 1163.85 L1012.58 1158.62 L1013.94 1161.3 L1015.31 1160 L1016.67 1165.55 L1018.03 1163.74 L1019.39 1157.68 L1020.76 1168.78 L1022.12 1159.35 L1023.48 1160.52 L1024.84 1162.42 L1026.21 1168.23 L1027.57 1161.21 L1028.93 1164.44 L1030.3 1166.82 L1031.66 1166.49 L1033.02 1164.2 L1034.38 1160.92 L1035.75 1164.1 L1037.11 1166.71 L1038.47 1164.47 L1039.83 1162.77 L1041.2 1160.59 L1042.56 1161.6 L1043.92 1165.62 L1045.28 1162.16 L1046.65 1156.87 L1048.01 1166.97 L1049.37 1165.74 L1050.73 1164.91 L1052.1 1166.39 L1053.46 1166.02 L1054.82 1161.68 L1056.19 1166.23 L1057.55 1159.76 L1058.91 1158.68 L1060.27 1162.09 L1061.64 1160.41 L1063 1168.4 L1064.36 1162.69 L1065.72 1162.93 L1067.09 1163.8 L1068.45 1144.6 L1069.81 1164.63 L1071.17 1164.14 L1072.54 1160.67 L1073.9 1160.12 L1075.26 1162.23 L1076.63 1160.5 L1077.99 1165.41 L1079.35 1157.22 L1080.71 1159.48 L1082.08 1161.33 L1083.44 1165.24 L1084.8 1164.63 L1086.16 1163.65 L1087.53 1167.27 L1088.89 1159.23 L1090.25 1158.05 L1091.61 1163.91 L1092.98 1161.34 L1094.34 1159.09 L1095.7 1165.68 L1097.07 1159.5 L1098.43 1160.44 L1099.79 1161.17 L1101.15 1168.25 L1102.52 1154.63 L1103.88 1163.59 L1105.24 1159.5 L1106.6 1160 L1107.97 1162.57 L1109.33 1159.15 L1110.69 1168.66 L1112.05 1160.36 L1113.42 1165.61 L1114.78 1157.39 L1116.14 1163.87 L1117.5 1163.29 L1118.87 1166.3 L1120.23 1158.19 L1121.59 1163.53 L1122.96 1166.36 L1124.32 1165.09 L1125.68 1158.35 L1127.04 1164.4 L1128.41 1164.94 L1129.77 1160.4 L1131.13 1165.3 L1132.49 1163.46 L1133.86 1167.78 L1135.22 1161.29 L1136.58 1165.07 L1137.94 1159.82 L1139.31 1166.2 L1140.67 1159.09 L1142.03 1163.69 L1143.4 1160.43 L1144.76 1160.93 L1146.12 1158.72 L1147.48 1160.56 L1148.85 1163.71 L1150.21 1159.12 L1151.57 1158.28 L1152.93 1167.59 L1154.3 1158.17 L1155.66 1169.21 L1157.02 1161.33 L1158.38 1161.59 L1159.75 1167.26 L1161.11 1165.56 L1162.47 1159.3 L1163.83 1159.17 L1165.2 1165.34 L1166.56 1165.58 L1167.92 1162.71 L1169.29 1165.81 L1170.65 1160.3 L1172.01 1164.67 L1173.37 1158.92 L1174.74 1162.64 L1176.1 1161.02 L1177.46 1161.65 L1178.82 1161.6 L1180.19 1166.47 L1181.55 1157.18 L1182.91 1160.85 L1184.27 1160.16 L1185.64 1168.93 L1187 1160.52 L1186.97 1143.03 L1186.97 1111.21 L1188.03 1109.7 L1188.03 1067.27 L1189.09 1065.76 L1189.09 1029.39 L1190.3 1027.88 L1190.3 997.58 L1191.36 996.06 L1191.36 956.67 L1192.58 955.15 L1192.58 926.36 L1194.09 924.85 L1195.15 923.33 L1195.15 806.67 L1196.36 805.15 L1196.36 803.64 L1199.39 803.64 L1199.7 806.67 L1200.61 808.18 L1200.61 864.24 L1201.67 865.76 L1201.97 927.88 L1203.48 929.39 L1203.94 953.64 L1205 955.15 L1205 1017.27 L1206.21 1018.79 L1206.52 1036.97 L1207.88 1038.48 L1208.18 1090 L1209.24 1091.52 L1209.24 1120.3 L1210.3 1121.82 L1210.76 1146.06 L1212.27 1149.09 L1213.03 1158.18 L1213.79 1152.12 L1214.85 1147.58 L1216.06 1155.15 L1217.27 1150.61 L1218.33 1156.67 L1219.85 1147.58 L1220.61 1153.64 L1222.12 1158.18 L1222.5 1161.13 L1223.86 1167.21 L1225.22 1165.07 L1226.58 1167.78 L1227.94 1158.94 L1229.31 1162.57 L1230.67 1160.3 L1232.03 1162.02 L1233.39 1167.48 L1234.75 1158.38 L1236.11 1166.34 L1237.47 1159.78 L1238.83 1163.03 L1240.19 1163.52 L1241.56 1168.18 L1242.92 1163.83 L1244.28 1158.28 L1245.64 1163.33 L1247 1160.03 L1248.36 1169.81 L1249.72 1165.65 L1251.08 1167.06 L1252.44 1166.81 L1253.81 1165.93 L1255.17 1168.67 L1256.53 1165.86 L1257.89 1160.45 L1259.25 1169.41 L1260.61 1161.95 L1261.97 1167.75 L1263.33 1163.45 L1264.69 1163.35 L1266.06 1162.61 L1267.42 1163.65 L1268.78 1161.91 L1270.14 1160.18 L1271.5 1169.14 L1272.86 1165.75 L1274.22 1169.17 L1275.58 1164.46 L1276.94 1164.48 L1278.31 1166.79 L1279.67 1158.68 L1281.03 1167.97 L1282.39 1161.94 L1283.75 1160.87 L1285.11 1161.56 L1286.47 1165.13 L1287.83 1160.67 L1289.19 1164.68 L1290.56 1165.02 L1291.92 1162.4 L1293.28 1160.16 L1294.64 1165.23 L1296 1160.42 L1297.36 1162.11 L1298.72 1161.03 L1300.08 1163.45 L1301.44 1159.11 L1302.81 1167.51 L1304.17 1168.17 L1305.53 1161.23 L1306.89 1167.57 L1308.25 1167.9 L1309.61 1157.2 L1310.97 1162.12 L1312.33 1168.3 L1313.69 1166.52 L1315.06 1164.77 L1316.42 1159.68 L1317.78 1164.48 L1319.14 1168.21 L1320.5 1167.12 L1321.86 1166.52 L1323.22 1159.59 L1324.58 1169.75 L1325.94 1160.5 L1327.31 1167.8 L1328.67 1158.35 L1330.03 1171.59 L1331.39 1162.58 L1332.75 1167.15 L1334.11 1159.47 L1335.47 1166.98 L1336.83 1163.92 L1338.19 1165.11 L1339.56 1161.94 L1340.92 1167.43 L1342.28 1160.91 L1343.64 1162.65 L1345 1147.8 L1346.36 1167.42 L1347.72 1158.19 L1349.08 1162.77 L1350.44 1159.3 L1351.81 1167.35 L1353.17 1163.5 L1354.53 1164.69 L1355.89 1158.27 L1357.25 1165.29 L1358.61 1161.68 L1359.97 1159.96 L1361.33 1159.5 L1362.69 1171.5 L1364.06 1156.87 L1365.42 1164.13 L1366.78 1161.2 L1368.14 1166.14 L1369.5 1158.22 L1370.86 1165.66 L1372.22 1161.83 L1373.58 1168.74 L1374.94 1156.46 L1376.31 1164.67 L1377.67 1163.72 L1379.03 1169.69 L1380.39 1162.21 L1381.75 1164.32 L1383.11 1165.9 L1384.47 1160.91 L1385.83 1159.51 L1387.19 1165.59 L1388.56 1168.33 L1389.92 1165.32 L1391.28 1160.66 L1392.64 1167.36 L1394 1166.98" class="sg"/>
<path d="M840.6 1950.1H1388.6" class="ax"/>
<path d="M849.6 1950.1V1515" class="ax"/>
<path d="M840.6 1515.9H849.6M845 1549.3H849.6M840.6 1582.7H849.6M845 1616.1H849.6M840.6 1649.5H849.6M845 1682.9H849.6M840.6 1716.3H849.6M845 1749.7H849.6M840.6 1783.1H849.6M845 1816.5H849.6M840.6 1849.9H849.6M845 1883.3H849.6M840.6 1916.7H849.6M871.55 1950.1V1954.7M925.5 1950.1V1959.1M979.45 1950.1V1954.7M1033.4 1950.1V1959.1M1087.35 1950.1V1954.7M1141.3 1950.1V1959.1M1195.25 1950.1V1954.7M1249.2 1950.1V1959.1M1303.15 1950.1V1954.7M1357.1 1950.1V1959.1" class="ax"/>
<text x="798.96" y="1524.47" class="tl" transform="translate(0 1524.47) scale(1 1.03) translate(0 -1524.47)">20</text>
<rect x="786.3" y="1514.35" width="9.8" height="3.1"/>
<text x="798.96" y="1591.27" class="tl" transform="translate(0 1591.27) scale(1 1.03) translate(0 -1591.27)">30</text>
<rect x="786.3" y="1581.15" width="9.8" height="3.1"/>
<text x="798.96" y="1658.07" class="tl" transform="translate(0 1658.07) scale(1 1.03) translate(0 -1658.07)">40</text>
<rect x="786.3" y="1647.95" width="9.8" height="3.1"/>
<text x="798.96" y="1724.87" class="tl" transform="translate(0 1724.87) scale(1 1.03) translate(0 -1724.87)">50</text>
<rect x="786.3" y="1714.75" width="9.8" height="3.1"/>
<text x="798.96" y="1791.67" class="tl" transform="translate(0 1791.67) scale(1 1.03) translate(0 -1791.67)">60</text>
<rect x="786.3" y="1781.55" width="9.8" height="3.1"/>
<text x="798.96" y="1858.47" class="tl" transform="translate(0 1858.47) scale(1 1.03) translate(0 -1858.47)">70</text>
<rect x="786.3" y="1848.35" width="9.8" height="3.1"/>
<text x="798.96" y="1925.27" class="tl" transform="translate(0 1925.27) scale(1 1.03) translate(0 -1925.27)">80</text>
<rect x="786.3" y="1915.15" width="9.8" height="3.1"/>
<text x="898.78" y="1989.47" class="tl" transform="translate(0 1989.47) scale(1 1.03) translate(0 -1989.47)">880</text>
<text x="1006.68" y="1989.47" class="tl" transform="translate(0 1989.47) scale(1 1.03) translate(0 -1989.47)">900</text>
<text x="1114.58" y="1989.47" class="tl" transform="translate(0 1989.47) scale(1 1.03) translate(0 -1989.47)">920</text>
<text x="1222.48" y="1989.47" class="tl" transform="translate(0 1989.47) scale(1 1.03) translate(0 -1989.47)">940</text>
<text x="1330.38" y="1989.47" class="tl" transform="translate(0 1989.47) scale(1 1.03) translate(0 -1989.47)">960</text>
<text transform="translate(971.96 2034.4) scale(1 1.0377)" class="ti" font-size="35.47" letter-spacing="1.329">Frequency (MHz)</text>
<text transform="translate(762 2001.52) rotate(-90) scale(0.9438 0.9783)" class="ti" font-size="40">Magnitude of interference (dBm)</text>
<path d="M850.07 1907.93 L855.14 1911.87 L855.7 1899.48 L856.83 1899.48 L856.83 1864.57 L857.95 1863.44 L857.61 1836.41 L859.08 1830.78 L859.08 1843.17 L860.54 1855.56 L860.77 1844.3 L861.89 1851.05 L861.89 1834.16 L863.02 1833.03 L863.02 1818.39 L864.71 1819.52 L864.71 1833.03 L865.84 1858.94 L866.4 1834.16 L867.3 1870.2 L868.09 1834.16 L868.65 1834.16 L868.65 1769.96 L870 1768.84 L870 1727.17 L871.47 1726.04 L871.47 1712.53 L872.59 1721.54 L873.16 1706.89 L874.85 1706.33 L875.97 1708.02 L876.54 1703.52 L877.66 1705.77 L878.22 1698.45 L878.79 1706.89 L879.35 1708.02 L879.35 1748.57 L880.48 1749.69 L880.81 1783.48 L881.6 1767.71 L882.39 1729.42 L883.29 1728.29 L883.86 1701.26 L884.98 1696.76 L884.98 1712.53 L886.11 1713.65 L886.9 1764.33 L887.8 1764.33 L887.8 1829.66 L888.92 1831.91 L888.92 1858.94 L890.05 1847.68 L890.61 1840.92 L892.3 1845.42 L893.2 1846.55 L893.2 1824.02 L894.33 1822.9 L894.33 1787.98 L895.68 1786.86 L895.68 1760.95 L896.81 1759.83 L896.81 1748.57 L897.93 1757.58 L899.62 1747.44 L900.75 1757.58 L901.88 1746.31 L903.57 1746.31 L904.69 1753.07 L906.38 1757.58 L907.51 1750.82 L909.2 1741.81 L910.32 1753.07 L911.45 1748.57 L912.58 1745.19 L913.7 1744.06 L915.39 1739.56 L916.18 1738.99 L916.18 1754.2 L917.64 1755.32 L917.64 1781.23 L918.77 1782.35 L918.77 1833.03 L919.9 1834.16 L919.9 1873.58 L921.02 1845.42 L921.59 1861.19 L922.71 1830.78 L923.84 1830.78 L924.4 1821.77 L925.19 1821.77 L925.53 1838.67 L926.99 1839.79 L926.99 1880.34 L928.12 1881.46 L928.34 1906.24 L929.24 1888.22 L929.69 1864.57 L930.93 1863.44 L931.16 1844.3 L932.62 1840.92 L933.97 1838.67 L933.97 1815.01 L935.66 1817.27 L936.79 1834.16 L937.35 1819.52 L937.92 1845.42 L939.04 1849.93 L939.61 1820.65 L941.29 1820.65 L941.86 1816.14 L942.98 1820.65 L944.11 1828.53 L944.67 1845.42 L945.8 1858.94 L946.93 1848.8 L948.62 1839.79 L948.62 1821.77 L950.3 1819.52 L950.3 1813.89 L951.43 1808.26 L953.12 1808.26 L954.81 1807.13 L955.94 1811.64 L957.06 1816.14 L957.63 1804.88 L958.75 1808.26 L960.44 1804.88 L961.57 1806 L962.69 1807.13 L963.26 1799.25 L964.16 1798.12 L964.38 1785.73 L965.51 1783.48 L966.07 1780.1 L967.2 1782.35 L967.76 1780.1 L968.89 1783.48 L969.45 1801.5 L970.58 1802.63 L970.58 1835.29 L971.7 1836.41 L971.7 1851.05 L972.83 1835.29 L973.39 1825.15 L974.29 1819.52 L975.08 1822.9 L976.21 1822.9 L976.55 1840.92 L977.33 1840.92 L977.33 1880.34 L977.9 1881.46 L978.46 1905.11 L979.02 1881.46 L979.93 1876.96 L979.93 1826.28 L981.19 1824.02 L981.19 1789.11 L982.32 1787.98 L982.88 1776.72 L984.01 1775.6 L984.01 1799.25 L985.36 1800.37 L985.36 1855.56 L986.49 1856.69 L986.83 1901.74 L987.95 1902.86 L988.29 1923.13 L989.08 1920.88 L989.42 1876.96 L990.77 1875.83 L990.77 1822.9 L991.89 1821.77 L991.89 1800.37 L993.25 1798.12 L994.15 1810.51 L995.27 1807.13 L996.4 1808.26 L997.53 1808.26 L998.09 1817.27 L998.88 1817.27 L999.21 1849.93 L1000.34 1849.93 L1000.34 1882.59 L1001.47 1883.72 L1001.8 1891.6 L1003.16 1893.85 L1004.28 1896.1 L1005.41 1893.85 L1006.54 1896.1 L1007.66 1898.36 L1008.79 1891.6 L1009.91 1896.1 L1011.04 1892.73 L1012.17 1897.23 L1013.86 1892.73 L1015.55 1889.35 L1016.67 1888.22 L1017.23 1891.6 L1018.92 1892.73 L1020.05 1894.98 L1021.18 1897.23 L1022.3 1894.98 L1023.43 1892.73 L1024.56 1893.85 L1025.12 1900.61 L1026.24 1906.24 L1027.37 1900.61 L1028.5 1905.11 L1029.62 1903.99 L1030.75 1900.61 L1031.31 1889.35 L1032.44 1888.22 L1033 1879.21 L1033.57 1881.46 L1034.13 1887.09 L1035.25 1892.73 L1036.38 1901.74 L1036.94 1894.98 L1038.07 1893.85 L1039.2 1896.1 L1039.76 1898.36 L1040.89 1901.74 L1041.45 1903.99 L1042.58 1899.48 L1043.14 1890.47 L1043.7 1891.6 L1044.83 1897.23 L1045.95 1900.61 L1047.08 1902.86 L1048.21 1906.24 L1049.33 1910.75 L1050.46 1913 L1052.71 1913 L1053.84 1914.12 L1054.96 1916.38 L1056.09 1915.25 L1057.22 1914.12 L1058.34 1910.75 L1058.91 1906.24 L1060.03 1901.74 L1060.6 1907.37 L1061.16 1911.87 L1062.28 1901.74 L1062.28 1885.97 L1063.41 1884.84 L1063.97 1869.07 L1065.1 1867.95 L1065.66 1855.56 L1066.79 1851.05 L1067.92 1852.18 L1068.48 1864.57 L1069.61 1864.57 L1070.17 1883.72 L1071.29 1884.84 L1071.29 1901.74 L1072.42 1902.86 L1072.76 1914.12 L1073.55 1909.62 L1074.67 1910.75 L1076.36 1907.37 L1077.49 1911.87 L1078.62 1918.63 L1079.74 1914.12 L1080.87 1915.25 L1081.99 1911.87 L1083.12 1917.5 L1084.25 1910.75 L1084.81 1914.12 L1085.94 1920.88 L1087.06 1916.38 L1088.19 1910.75 L1089.31 1914.12 L1090.44 1915.25 L1091 1918.63 L1092.13 1914.12 L1093.26 1901.74 L1093.82 1890.47 L1094.95 1901.74 L1096.07 1915.25 L1096.64 1917.5 L1097.76 1906.24 L1098.89 1911.87 L1100.01 1915.25 L1101.14 1914.12 L1102.27 1915.25 L1103.39 1918.63 L1104.52 1910.75 L1105.65 1918.63 L1106.77 1914.12 L1108.46 1907.37 L1109.59 1910.75 L1110.71 1918.63 L1111.84 1916.38 L1113.53 1917.5 L1114.99 1918.63 L1116.19 1913.75 L1116.76 1906.99 L1117.88 1905.87 L1118.45 1896.86 L1119.01 1906.99 L1120.14 1918.26 L1121.26 1906.99 L1122.16 1897.98 L1122.95 1904.74 L1124.08 1905.87 L1125.2 1906.99 L1126.33 1912.63 L1126.89 1918.26 L1128.02 1912.63 L1129.15 1914.88 L1130.27 1920.51 L1131.4 1916 L1132.53 1908.12 L1133.65 1905.87 L1134.78 1902.49 L1135.9 1900.24 L1136.47 1905.87 L1137.59 1917.13 L1138.72 1922.76 L1139.85 1918.26 L1140.97 1911.5 L1142.1 1916 L1143.79 1917.13 L1145.48 1918.26 L1146.6 1912.63 L1147.73 1909.25 L1148.86 1912.63 L1149.98 1917.13 L1151.67 1917.13 L1153.36 1920.51 L1154.49 1912.63 L1155.61 1911.5 L1156.74 1916 L1157.87 1911.5 L1158.99 1906.99 L1160.12 1911.5 L1161.24 1913.75 L1162.37 1917.13 L1163.5 1911.5 L1164.06 1909.25 L1165.19 1917.13 L1166.31 1909.25 L1167.44 1913.75 L1168.57 1917.13 L1169.69 1917.13 L1171.38 1912.63 L1172.51 1918.26 L1174.2 1916 L1175.89 1912.63 L1177.01 1911.5 L1178.14 1918.26 L1179.26 1920.51 L1180.39 1914.88 L1182.08 1916 L1183.77 1917.13 L1184.9 1916 L1186.02 1911.5 L1186.59 1913.75 L1187.71 1910.37 L1188.27 1913.75 L1188.84 1906.99 L1189.4 1917.13 L1190.53 1914.88 L1191.09 1882.22 L1192.22 1883.34 L1192.78 1888.97 L1193.91 1881.09 L1195.03 1888.97 L1196.16 1888.97 L1196.72 1897.98 L1197.28 1899.11 L1197.28 1914.88 L1199.54 1914.88 L1199.54 1894.61 L1200.66 1893.48 L1201.23 1876.59 L1202.35 1875.46 L1202.92 1886.72 L1204.04 1887.85 L1204.61 1895.73 L1205.73 1896.86 L1206.29 1908.12 L1207.42 1909.25 L1207.98 1912.63 L1209.11 1914.88 L1210.24 1917.13 L1211.93 1918.26 L1213.05 1916 L1214.18 1922.76 L1215.3 1916 L1216.43 1913.75 L1217.56 1916 L1218.68 1912.63 L1219.81 1918.26 L1220.94 1913.75 L1222.06 1910.37 L1223.19 1917.13 L1224.31 1917.13 L1225.44 1914.88 L1226.57 1916 L1227.69 1910.37 L1228.82 1911.5 L1229.95 1917.13 L1231.07 1918.26 L1232.2 1911.5 L1233.32 1914.88 L1234.45 1914.88 L1235.58 1916 L1236.14 1902.49 L1237.57 1900.98 L1237.83 1862.37 L1239.12 1861.08 L1239.5 1814.75 L1240.15 1813.46 L1240.41 1795.44 L1241.44 1798.02 L1242.08 1825.05 L1243.37 1827.62 L1243.75 1885.53 L1244.65 1886.82 L1244.65 1916.42 L1245.94 1902.27 L1246.58 1908.7 L1247.23 1917.71 L1247.87 1903.55 L1248.51 1882.96 L1249.41 1881.67 L1250.06 1872.66 L1250.44 1884.25 L1251.73 1885.53 L1251.99 1907.41 L1253.02 1908.7 L1253.66 1917.71 L1255.59 1917.71 L1256.24 1906.13 L1257.14 1911.27 L1258.17 1912.56 L1259.45 1911.27 L1260.74 1916.42 L1262.03 1913.85 L1263.31 1912.56 L1265.24 1912.56 L1267.18 1908.7 L1267.82 1912.56 L1269.11 1913.85 L1270.39 1906.13 L1271.68 1902.27 L1272.97 1916.42 L1274.25 1903.55 L1275.54 1894.54 L1276.83 1893.26 L1277.73 1903.55 L1278.76 1904.84 L1279.79 1916.42 L1280.69 1911.27 L1281.98 1912.56 L1283.26 1913.85 L1284.55 1911.27 L1285.84 1915.14 L1287.77 1917.71 L1289.05 1897.12 L1290.34 1895.83 L1290.98 1870.09 L1291.89 1859.79 L1292.92 1870.09 L1293.94 1870.09 L1294.2 1893.26 L1295.23 1893.26 L1295.49 1911.27 L1296.78 1908.7 L1298.06 1912.56 L1299.35 1916.42 L1300.64 1904.84 L1301.92 1903.55 L1302.95 1898.4 L1303.85 1904.84 L1305.14 1915.14 L1306.43 1916.42 L1307.72 1908.7 L1309 1907.41 L1309.65 1915.14 L1310.93 1922.86 L1312.22 1915.14 L1314.15 1920.28 L1316.08 1920.28 L1318.01 1909.99 L1319.94 1908.7 L1321.23 1917.71 L1322.52 1911.27 L1323.29 1902.27 L1323.8 1917.71 L1325.09 1915.14 L1326.38 1913.85 L1327.66 1915.14 L1329.59 1909.99 L1330.88 1912.56 L1333.46 1911.27 L1334.1 1898.4 L1335.39 1897.12 L1335.39 1882.96 L1336.67 1881.67 L1337.32 1872.66 L1338.35 1864.94 L1339.5 1862.37 L1340.28 1867.52 L1341.18 1868.8 L1341.56 1884.25 L1342.46 1885.53 L1342.85 1907.41 L1343.75 1908.7 L1344.4 1917.71 L1345.68 1908.7 L1347.61 1908.7 L1350.19 1909.99 L1351.47 1915.14 L1352.76 1917.71 L1354.69 1915.14 L1356.62 1913.85 L1357.91 1916.42 L1359.2 1912.56 L1360.48 1919 L1361.77 1913.85 L1363.06 1912.56 L1364.34 1911.27 L1365.63 1913.85 L1366.53 1903.55 L1367.56 1913.85 L1369.49 1915.14 L1371.42 1917.71 L1374 1915.14 L1376.57 1913.85 L1378.5 1919 L1381.07 1919 L1382.36 1915.14 L1383.65 1908.7 L1384.55 1909.99 L1385.58 1920.28 L1386.22 1913.85 L1387.51 1916.42 L1389.44 1915.14" class="sg"/>
<path d="M839.4 2690H1391.6" class="ax"/>
<path d="M848.4 2690V2255.8" class="ax"/>
<path d="M839.4 2256.7H848.4M843.8 2290.03H848.4M839.4 2323.36H848.4M843.8 2356.69H848.4M839.4 2390.02H848.4M843.8 2423.35H848.4M839.4 2456.68H848.4M843.8 2490.02H848.4M839.4 2523.35H848.4M843.8 2556.68H848.4M839.4 2590.01H848.4M843.8 2623.34H848.4M839.4 2656.67H848.4M870.05 2690V2694.6M924.6 2690V2699M979.15 2690V2694.6M1033.7 2690V2699M1088.25 2690V2694.6M1142.8 2690V2699M1197.35 2690V2694.6M1251.9 2690V2699M1306.45 2690V2694.6M1361 2690V2699" class="ax"/>
<text x="797.76" y="2265.27" class="tl" transform="translate(0 2265.27) scale(1 1.03) translate(0 -2265.27)">20</text>
<rect x="785.1" y="2255.15" width="9.8" height="3.1"/>
<text x="797.76" y="2331.93" class="tl" transform="translate(0 2331.93) scale(1 1.03) translate(0 -2331.93)">30</text>
<rect x="785.1" y="2321.81" width="9.8" height="3.1"/>
<text x="797.76" y="2398.59" class="tl" transform="translate(0 2398.59) scale(1 1.03) translate(0 -2398.59)">40</text>
<rect x="785.1" y="2388.47" width="9.8" height="3.1"/>
<text x="797.76" y="2465.26" class="tl" transform="translate(0 2465.26) scale(1 1.03) translate(0 -2465.26)">50</text>
<rect x="785.1" y="2455.13" width="9.8" height="3.1"/>
<text x="797.76" y="2531.92" class="tl" transform="translate(0 2531.92) scale(1 1.03) translate(0 -2531.92)">60</text>
<rect x="785.1" y="2521.8" width="9.8" height="3.1"/>
<text x="797.76" y="2598.58" class="tl" transform="translate(0 2598.58) scale(1 1.03) translate(0 -2598.58)">70</text>
<rect x="785.1" y="2588.46" width="9.8" height="3.1"/>
<text x="797.76" y="2665.24" class="tl" transform="translate(0 2665.24) scale(1 1.03) translate(0 -2665.24)">80</text>
<rect x="785.1" y="2655.12" width="9.8" height="3.1"/>
<text x="897.88" y="2729.37" class="tl" transform="translate(0 2729.37) scale(1 1.03) translate(0 -2729.37)">880</text>
<text x="1006.98" y="2729.37" class="tl" transform="translate(0 2729.37) scale(1 1.03) translate(0 -2729.37)">900</text>
<text x="1116.08" y="2729.37" class="tl" transform="translate(0 2729.37) scale(1 1.03) translate(0 -2729.37)">920</text>
<text x="1225.18" y="2729.37" class="tl" transform="translate(0 2729.37) scale(1 1.03) translate(0 -2729.37)">940</text>
<text x="1334.28" y="2729.37" class="tl" transform="translate(0 2729.37) scale(1 1.03) translate(0 -2729.37)">960</text>
<text transform="translate(971.96 2774.4) scale(1 1.0377)" class="ti" font-size="35.47" letter-spacing="1.479">Frequency (MHz)</text>
<text transform="translate(760.7 2755.02) rotate(-90) scale(0.9449 0.9928)" class="ti" font-size="40">Magnitude of interference (dBm)</text>
<path d="M848.38 2660.03 L850.07 2657.78 L851.76 2654.4 L853.45 2652.14 L853.45 2638.63 L855.14 2637.5 L855.14 2594.71 L856.26 2593.58 L856.26 2559.79 L857.61 2555.29 L857.95 2569.93 L859.08 2571.05 L859.08 2614.98 L860.2 2616.1 L860.43 2646.51 L861.33 2640.88 L861.89 2610.47 L863.02 2609.35 L863.02 2585.7 L864.15 2592.45 L865.27 2589.07 L865.84 2549.66 L867.53 2549.66 L867.53 2476.45 L868.65 2475.32 L868.65 2430.27 L869.78 2420.14 L870.9 2423.52 L872.59 2421.26 L874.28 2422.39 L874.28 2433.65 L875.41 2434.78 L875.41 2444.91 L876.54 2438.16 L877.66 2443.79 L877.66 2475.32 L878.79 2476.45 L879.35 2502.35 L881.04 2500.1 L881.04 2477.58 L882.17 2456.18 L883.29 2453.92 L883.86 2464.06 L884.98 2464.06 L884.98 2516.99 L886.11 2518.12 L886.45 2562.04 L887.23 2546.28 L887.8 2526 L888.92 2515.87 L890.05 2514.74 L890.61 2522.63 L891.18 2527.13 L892.3 2521.5 L893.2 2520.37 L893.43 2504.61 L894.56 2503.48 L894.56 2483.21 L895.68 2480.95 L896.81 2477.58 L897.93 2473.07 L899.06 2470.82 L900.75 2468.57 L901.31 2459.56 L902.44 2452.8 L903.57 2455.05 L904.69 2461.81 L905.82 2455.05 L907.51 2453.92 L909.2 2457.3 L910.32 2461.81 L912.01 2453.92 L913.48 2452.8 L914.6 2455.05 L915.05 2467.44 L916.18 2468.57 L916.18 2500.1 L917.31 2501.23 L917.31 2556.41 L918.77 2557.54 L918.77 2591.33 L919.9 2577.81 L921.02 2594.71 L922.15 2586.82 L923.27 2585.7 L924.4 2591.33 L924.96 2614.98 L925.86 2616.1 L926.09 2644.26 L927.22 2653.27 L927.78 2634.12 L928.91 2633 L928.91 2593.58 L930.03 2592.45 L930.03 2566.55 L931.16 2565.42 L931.72 2554.16 L932.85 2549.66 L933.97 2545.15 L935.1 2538.39 L936.23 2545.15 L937.35 2535.01 L938.48 2537.27 L939.61 2541.77 L941.29 2545.15 L942.42 2558.67 L943.55 2560.92 L944.11 2551.91 L944.67 2539.52 L945.8 2538.39 L946.36 2529.38 L948.05 2530.51 L949.18 2536.14 L949.74 2545.15 L950.87 2546.28 L950.87 2568.8 L951.99 2569.93 L952.56 2582.32 L953.68 2566.55 L954.25 2546.28 L955.94 2540.65 L956.5 2548.53 L957.63 2551.91 L958.75 2556.41 L959.31 2563.17 L959.88 2574.43 L961 2567.68 L961.57 2546.28 L962.69 2545.15 L962.69 2528.26 L963.82 2528.26 L964.38 2539.52 L965.51 2538.39 L966.07 2526 L967.2 2524.88 L967.76 2512.49 L968.89 2519.25 L969.45 2539.52 L970.24 2540.65 L970.58 2554.16 L971.7 2551.91 L972.27 2540.65 L973.39 2539.52 L973.96 2521.5 L975.08 2520.37 L975.65 2524.88 L976.21 2548.53 L977.33 2549.66 L977.33 2603.72 L978.8 2604.84 L979.02 2637.5 L979.59 2603.72 L980.15 2602.59 L980.15 2526 L981.19 2524.88 L981.19 2471.94 L982.32 2470.82 L982.88 2459.56 L984.01 2462.93 L984.01 2489.96 L985.36 2491.09 L985.36 2563.17 L986.83 2564.3 L986.83 2630.75 L987.95 2633 L988.52 2654.4 L989.64 2654.4 L989.64 2629.62 L990.77 2628.49 L990.77 2571.05 L991.89 2569.93 L992.46 2537.27 L993.58 2536.14 L994.15 2521.5 L995.05 2512.49 L995.5 2521.5 L996.62 2522.63 L996.96 2548.53 L998.09 2549.66 L998.43 2572.18 L999.21 2572.18 L999.21 2603.72 L1000.34 2604.84 L1000.9 2636.38 L1002.03 2637.5 L1002.59 2648.77 L1003.72 2652.14 L1004.85 2645.39 L1005.97 2652.14 L1007.1 2651.02 L1008.22 2655.52 L1009.35 2651.02 L1010.48 2648.77 L1012.17 2647.64 L1013.86 2646.51 L1015.55 2651.02 L1016.67 2653.27 L1017.23 2645.39 L1018.36 2644.26 L1019.49 2644.26 L1020.05 2648.77 L1021.74 2648.77 L1022.87 2651.02 L1024.56 2654.4 L1026.24 2654.4 L1027.93 2653.27 L1029.06 2648.77 L1030.19 2639.76 L1031.31 2643.13 L1032.44 2642.01 L1033.57 2647.64 L1034.69 2649.89 L1036.38 2652.14 L1037.51 2648.77 L1038.63 2644.26 L1039.76 2639.76 L1040.32 2645.39 L1041.45 2652.14 L1042.58 2646.51 L1043.7 2642.01 L1044.26 2645.39 L1044.83 2647.64 L1045.95 2653.27 L1046.85 2656.65 L1047.64 2651.02 L1048.77 2655.52 L1049.9 2655.52 L1051.59 2653.27 L1052.71 2652.14 L1053.84 2654.4 L1055.53 2652.14 L1056.65 2651.02 L1057.78 2652.14 L1058.91 2654.4 L1060.03 2648.77 L1061.16 2646.51 L1062.28 2648.77 L1062.85 2640.88 L1063.97 2639.76 L1064.54 2625.11 L1065.66 2623.99 L1066 2614.98 L1067.35 2612.73 L1068.48 2611.6 L1069.04 2621.74 L1070.17 2622.86 L1070.51 2638.63 L1071.29 2639.76 L1071.86 2648.77 L1072.42 2653.27 L1073.55 2651.02 L1074.67 2651.02 L1075.8 2653.27 L1076.93 2655.52 L1078.05 2657.78 L1079.18 2660.03 L1080.3 2660.03 L1081.43 2660.03 L1082.56 2657.78 L1083.68 2649.89 L1084.81 2658.9 L1085.94 2649.89 L1087.06 2653.27 L1088.19 2655.52 L1089.31 2657.78 L1090.44 2660.03 L1091.57 2657.78 L1092.69 2654.4 L1093.82 2653.27 L1094.95 2652.14 L1096.07 2654.4 L1097.2 2656.65 L1098.32 2662.28 L1099.45 2653.27 L1100.58 2657.78 L1101.7 2660.03 L1102.83 2658.9 L1104.52 2657.78 L1106.21 2656.65 L1107.33 2655.52 L1108.46 2657.78 L1110.15 2657.78 L1111.84 2656.65 L1113.53 2655.52 L1114.99 2654.4 L1116.52 2654.39 L1117.33 2659.28 L1118.96 2652.76 L1120.1 2654.39 L1121.08 2641.36 L1121.73 2642.99 L1122.22 2651.13 L1123.85 2657.65 L1125.48 2652.76 L1127.11 2656.02 L1128.74 2654.39 L1130.37 2657.65 L1132 2651.13 L1133.63 2647.87 L1135.26 2644.62 L1136.89 2647.87 L1138.52 2652.76 L1140.15 2657.65 L1141.78 2651.13 L1143.41 2652.76 L1145.04 2654.39 L1146.67 2659.28 L1149.11 2657.65 L1151.56 2656.02 L1153.19 2657.65 L1155.63 2656.02 L1158.08 2657.65 L1160.52 2656.02 L1162.97 2654.39 L1165.41 2652.76 L1167.04 2657.65 L1168.67 2654.39 L1171.11 2656.02 L1173.56 2656.02 L1176 2657.65 L1178.45 2654.39 L1180.08 2651.13 L1181.71 2649.5 L1183.34 2651.13 L1184.97 2652.76 L1185.29 2621.8 L1186.6 2620.17 L1186.92 2576.17 L1188.23 2574.54 L1188.72 2535.42 L1189.86 2533.79 L1189.86 2483.27 L1191.16 2481.64 L1191.49 2439.27 L1192.79 2437.64 L1193.12 2406.68 L1194.09 2405.05 L1194.09 2281.19 L1195.56 2276.3 L1197.19 2275.48 L1198.82 2282.82 L1199.31 2344.75 L1200.61 2346.38 L1200.94 2422.97 L1202.24 2424.6 L1202.89 2471.86 L1203.71 2473.49 L1204.2 2515.87 L1205.01 2517.5 L1205.34 2551.72 L1206.48 2553.35 L1206.97 2595.72 L1207.78 2597.35 L1208.11 2633.21 L1209.09 2634.84 L1209.74 2647.87 L1211.04 2654.39 L1211.86 2659.28 L1213 2651.13 L1214.3 2654.39 L1215.93 2657.65 L1216.75 2649.5 L1217.89 2652.76 L1219.19 2656.02 L1220.82 2660.91 L1222.45 2657.65 L1224.08 2654.39 L1225.71 2652.76 L1227.34 2651.13 L1228.16 2638.1 L1229.3 2636.47 L1229.78 2610.39 L1230.6 2569.65 L1231.41 2576.17 L1231.9 2610.39 L1233.04 2612.02 L1233.53 2638.1 L1234.67 2639.73 L1235.49 2657.65 L1236.3 2667.43 L1237.12 2659.28 L1238.75 2652.76 L1239.56 2651.13 L1240.38 2634.84 L1241.68 2633.21 L1241.68 2592.46 L1242.82 2590.83 L1242.82 2533.79 L1243.64 2532.16 L1244.45 2569.65 L1245.27 2569.65 L1245.59 2629.95 L1246.57 2631.58 L1246.9 2654.39 L1248.2 2651.13 L1249.16 2625.24 L1250.44 2623.95 L1250.44 2594.35 L1251.73 2593.06 L1252.37 2584.05 L1253.02 2594.35 L1254.05 2595.64 L1254.31 2625.24 L1255.33 2626.53 L1255.59 2650.98 L1256.62 2652.27 L1257.52 2661.27 L1259.45 2658.7 L1260.74 2656.13 L1262.03 2658.7 L1263.31 2659.99 L1264.6 2654.84 L1265.89 2652.27 L1267.18 2658.7 L1268.46 2659.99 L1269.75 2658.7 L1271.04 2657.41 L1272.32 2654.84 L1273.61 2653.55 L1274.9 2658.7 L1276.18 2652.27 L1276.44 2634.25 L1277.47 2632.96 L1278.37 2622.66 L1279.4 2625.24 L1280.05 2635.53 L1281.07 2636.82 L1281.33 2650.98 L1282.62 2652.27 L1283.26 2657.41 L1284.55 2658.7 L1285.84 2662.56 L1286.48 2657.41 L1287.77 2658.7 L1288.41 2649.69 L1289.7 2657.41 L1290.34 2653.55 L1291.63 2659.99 L1291.63 2645.83 L1292.92 2644.54 L1292.92 2627.81 L1293.94 2626.53 L1294.46 2595.64 L1295.23 2604.65 L1296.13 2604.65 L1296.52 2632.96 L1297.42 2634.25 L1297.81 2657.41 L1298.71 2659.99 L1299.99 2657.41 L1301.28 2652.27 L1302.57 2657.41 L1303.85 2661.27 L1305.14 2654.84 L1306.43 2653.55 L1307.72 2654.84 L1309 2656.13 L1310.93 2657.41 L1312.22 2663.85 L1313.51 2659.99 L1314.79 2656.13 L1316.08 2654.84 L1318.01 2653.55 L1319.3 2657.41 L1320.59 2659.99 L1321.87 2657.41 L1323.16 2653.55 L1324.45 2652.27 L1325.73 2654.84 L1327.02 2659.99 L1328.31 2653.55 L1329.59 2650.98 L1330.88 2654.84 L1332.17 2650.98 L1333.46 2653.55 L1334.74 2659.99 L1336.03 2657.41 L1337.32 2656.13 L1338.6 2653.55 L1339.89 2650.98 L1341.18 2643.26 L1342.46 2640.68 L1343.75 2639.4 L1344.4 2632.96 L1345.04 2643.26 L1345.94 2643.26 L1346.71 2656.13 L1347.61 2657.41 L1349.54 2658.7 L1350.83 2657.41 L1352.12 2658.7 L1353.4 2659.99 L1354.69 2656.13 L1356.62 2657.41 L1357.91 2661.27 L1359.2 2657.41 L1360.48 2656.13 L1361.77 2654.84 L1363.06 2658.7 L1364.34 2654.84 L1365.63 2653.55 L1367.56 2652.27 L1369.49 2654.84 L1370.78 2649.69 L1372.07 2653.55 L1373.35 2654.84 L1375.28 2657.41 L1377.21 2658.7 L1378.5 2659.99 L1379.79 2662.56 L1381.07 2659.99 L1382.36 2662.56 L1383.65 2657.41 L1384.94 2653.55 L1386.22 2650.98 L1387.51 2650.98 L1388.8 2654.84 L1390.08 2656.13 L1392.01 2654.84" class="sg"/>
<text transform="translate(605.57 626.5) scale(1.1648 1.2355)" class="tt" font-size="40">Reference</text>
<text transform="translate(671.79 681.66) scale(1.0682 0.9821)" class="cap" font-size="48">(a)</text>
<text transform="translate(419.62 1349.2) scale(1.1543 1.1703)" class="tt" font-size="40">Single isolated interference</text>
<text transform="translate(671.95 1403.48) scale(1.0417 0.9615)" class="cap" font-size="48">(b)</text>
<text transform="translate(480.84 2092.1) scale(1.1451 1.1522)" class="tt" font-size="40">Background interference</text>
<text transform="translate(671.88 2148.59) scale(1.0743 0.9409)" class="cap" font-size="48">(c)</text>
<text transform="translate(249.23 2833) scale(1.1485 1.2536)" class="tt" font-size="40">Single interference with background interference</text>
<text transform="translate(670.81 2885.21) scale(1.0610 0.9386)" class="cap" font-size="48">(d)</text>
</svg>
</body></html>
